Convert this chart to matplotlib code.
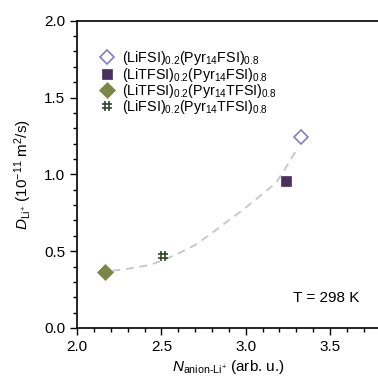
"""Li+ diffusion coefficient vs anion-Li+ coordination number."""
import matplotlib
matplotlib.use("Agg")
import matplotlib.pyplot as plt
from matplotlib.path import Path
from matplotlib.ticker import MultipleLocator

# measured points
labels = [
    r"(LiFSI)$_{0.2}$(Pyr$_{14}$FSI)$_{0.8}$",
    r"(LiTFSI)$_{0.2}$(Pyr$_{14}$FSI)$_{0.8}$",
    r"(LiTFSI)$_{0.2}$(Pyr$_{14}$TFSI)$_{0.8}$",
    r"(LiFSI)$_{0.2}$(Pyr$_{14}$TFSI)$_{0.8}$",
]
n_anion = [3.33, 3.24, 2.166, 2.51]
d_li = [1.24, 0.955, 0.365, 0.47]

# guide-to-the-eye curve
guide_x = [2.21, 2.30, 2.43, 2.52, 2.61, 2.70, 2.79, 2.88, 2.985, 3.08, 3.18, 3.25, 3.31]
guide_y = [0.373, 0.385, 0.41, 0.445, 0.49, 0.54, 0.61, 0.685, 0.77, 0.855, 0.945, 1.065, 1.175]

plt.rcParams["font.family"] = ["Liberation Sans", "DejaVu Sans"]
plt.rcParams["mathtext.fontset"] = "custom"
plt.rcParams["mathtext.rm"] = "Liberation Sans"
plt.rcParams["mathtext.it"] = "Liberation Sans:italic"
plt.rcParams["mathtext.bf"] = "Liberation Sans:bold"

hash_marker = Path(
    [(-0.35, -1), (-0.35, 1), (0.35, -1), (0.35, 1),
     (-1, -0.35), (1, -0.35), (-1, 0.35), (1, 0.35)],
    [Path.MOVETO, Path.LINETO] * 4,
)

styles = [
    dict(marker="D", mfc="white", mec="#7f80cc", mew=1.2, ms=7),
    dict(marker="s", mfc="#48305f", mec="#48305f", mew=0.5, ms=7),
    dict(marker="D", mfc="#7a8747", mec="#7a8747", mew=0.5, ms=8),
    dict(marker=hash_marker, mfc="none", mec="#34452a", mew=1.2, ms=6.5),
]

fig = plt.figure(figsize=(3.78, 3.79), dpi=100)
ax = fig.add_axes([0.204, 0.1346, 0.803, 0.8108])

ax.plot(guide_x, guide_y, ls=(0, (4, 3)), color="#c8c8c8", lw=1.4, zorder=1)
for x, y, lab, st in zip(n_anion, d_li, labels, styles):
    ax.plot([x], [y], ls="none", label=lab, zorder=3, **st)

ax.set_xlim(2.0, 3.8)
ax.set_ylim(0.0, 2.0)
ax.xaxis.set_major_locator(MultipleLocator(0.5))
ax.xaxis.set_minor_locator(MultipleLocator(0.1))
ax.yaxis.set_major_locator(MultipleLocator(0.5))
ax.yaxis.set_minor_locator(MultipleLocator(0.1))
ax.xaxis.set_major_formatter(matplotlib.ticker.FormatStrFormatter("%.1f"))
ax.yaxis.set_major_formatter(matplotlib.ticker.FormatStrFormatter("%.1f"))
ax.tick_params(which="both", direction="out", labelsize=11, width=1)
ax.tick_params(which="major", length=5)
ax.tick_params(which="minor", length=3)
ax.spines["right"].set_visible(False)
for s in ("left", "bottom", "top"):
    ax.spines[s].set_linewidth(1.2)

ax.set_xlabel(r"$N_{\mathrm{anion\text{-}Li^{+}}}$ (arb. u.)", fontsize=11, labelpad=3)
ax.set_ylabel(r"$D_{\mathrm{Li^{+}}}$ (10$^{-11}$ m$^{2}$/s)", fontsize=11, labelpad=7)

ax.text(3.28, 0.195, "T = 298 K", fontsize=11, va="center", ha="left")

ax.legend(loc="upper left", bbox_to_anchor=(0.05, 0.93), frameon=False,
          fontsize=10.3, handlelength=1.0, handletextpad=0.6,
          labelspacing=-0.12, borderpad=0)

fig.savefig("out.png", dpi=100)
plt.close(fig)
